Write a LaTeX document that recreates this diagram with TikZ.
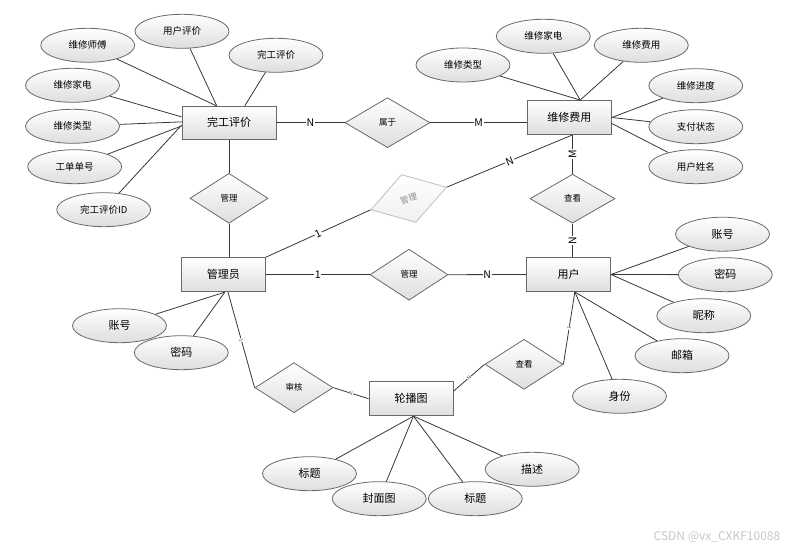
\documentclass[tikz,border=0pt]{standalone}
\usepackage{fontspec}
\setmainfont{Noto Sans CJK SC}
\usepackage{xcolor}
\usepackage{tikz}
\usetikzlibrary{shapes.geometric, positioning}
\definecolor{linecolor}{RGB}{55,55,55}
\definecolor{edgecolor}{RGB}{105,105,105}
\definecolor{shadecolor}{RGB}{222,222,222}

\begin{document}
\begin{tikzpicture}[
    x=1pt, y=-1pt,
    entity/.style={draw=edgecolor, line width=0.9pt, rectangle, top color=white, bottom color=shadecolor, minimum width=84pt, minimum height=34pt, inner sep=0pt, font=\fontsize{11}{13}\selectfont},
    attribute/.style={draw=edgecolor, line width=0.8pt, ellipse, top color=white, bottom color=shadecolor, minimum width=94pt, minimum height=34pt, inner sep=0pt, font=\fontsize{9.5}{11}\selectfont},
    bigattribute/.style={attribute, font=\fontsize{11}{13}\selectfont},
    relation/.style={draw=edgecolor, line width=0.8pt, diamond, top color=white, bottom color=shadecolor, minimum width=78pt, minimum height=50pt, inner sep=0pt, font=\fontsize{8.5}{10}\selectfont},
    link/.style={draw=linecolor, line width=0.8pt},
    card/.style={fill=white, inner sep=0.8pt, font=\fontsize{10.5}{11}\selectfont},
    tinycard/.style={fill=white, inner sep=0.2pt, text=black!70, font=\fontsize{5}{6}\selectfont, sloped}
]
    \useasboundingbox (0,0) rectangle (812,553);

    % Entities
    \node[entity, minimum width=94pt, minimum height=33pt] (wgpj) at (229,122.7) {完工评价};
    \node[entity] (wxfy) at (569.3,117.5) {维修费用};
    \node[entity] (gly) at (223.3,274.7) {管理员};
    \node[entity] (yh) at (568.5,274.5) {用户};
    \node[entity] (lbt) at (411,398.7) {轮播图};

    % Relations
    \node[relation, minimum width=85pt] (sy) at (387.5,122.7) {属于};
    \node[relation] (gl1) at (229,198.3) {管理};
    \node[relation, minimum width=79pt, rotate=16.6, draw=black!25, text=black!45, bottom color=black!6] (gl2) at (408.7,198.5) {管理};
    \node[relation, minimum width=85pt, minimum height=49pt] (ck1) at (572.5,198.7) {查看};
    \node[relation, minimum height=51pt] (gl3) at (409,274.7) {管理};
    \node[relation] (sh) at (294,387.7) {审核};
    \node[relation] (ck2) at (524,364.3) {查看};

    % Attributes of 完工评价
    \node[attribute] (wsf) at (87.7,45.3) {维修师傅};
    \node[attribute] (yhpj) at (182,31.3) {用户评价};
    \node[attribute] (wgpja) at (276,55.3) {完工评价};
    \node[attribute] (wxjd) at (72.5,85.3) {维修家电};
    \node[attribute] (wxlx) at (72.5,126.3) {维修类型};
    \node[attribute] (gddh) at (74.7,166.7) {工单单号};
    \node[attribute] (wgid) at (103.7,209.7) {完工评价ID};

    % Attributes of 维修费用
    \node[attribute] (fwlx) at (463,65) {维修类型};
    \node[attribute] (fwjd) at (543.3,36.3) {维修家电};
    \node[attribute] (fwfy) at (641.3,45.3) {维修费用};
    \node[attribute] (fwjz) at (695.8,85.7) {维修进度};
    \node[attribute] (zfzt) at (695.8,126.7) {支付状态};
    \node[attribute] (yhxm) at (695.8,166.7) {用户姓名};

    % Attributes of 管理员 and 用户
    \node[bigattribute] (zh1) at (119.5,325.7) {账号};
    \node[bigattribute] (mm1) at (181.3,352.7) {密码};
    \node[bigattribute] (zh2) at (722.5,234.2) {账号};
    \node[bigattribute] (mm2) at (725.3,274.7) {密码};
    \node[bigattribute] (nc) at (703.8,315.7) {昵称};
    \node[bigattribute] (yx) at (682,355.7) {邮箱};
    \node[bigattribute] (sf) at (619.5,396.3) {身份};

    % Attributes of 轮播图
    \node[bigattribute] (bt1) at (309.5,473.7) {标题};
    \node[bigattribute] (fmt) at (379.2,498.7) {封面图};
    \node[bigattribute] (bt2) at (475.3,498.7) {标题};
    \node[bigattribute] (ms) at (532.2,469.3) {描述};

    % Attribute links
    \draw[link] (wsf) -- (wgpj.127);
    \draw[link] (yhpj) -- (wgpj.126);
    \draw[link] (wgpja) -- (wgpj.47);
    \draw[link] (wxjd) -- (wgpj.173);
    \draw[link] (wxlx) -- (wgpj.179);
    \draw[link] (gddh) -- (wgpj.184);
    \draw[link] (wgid) -- (wgpj.183);
    \draw[link] (fwlx) -- (wxfy.58);
    \draw[link] (fwjd) -- (wxfy.58);
    \draw[link] (fwfy) -- (wxfy.58);
    \draw[link] (fwjz) -- (wxfy.east);
    \draw[link] (zfzt) -- (wxfy.east);
    \draw[link] (yhxm) -- (wxfy.-8);
    \draw[link] (zh1) -- (gly.-85);
    \draw[link] (mm1) -- (gly.-85);
    \draw[link] (zh2) -- (yh.east);
    \draw[link] (mm2) -- (yh.east);
    \draw[link] (nc) -- (yh.east);
    \draw[link] (yx) -- (yh.-70);
    \draw[link] (sf) -- (yh.-70);
    \draw[link] (bt1) -- (lbt.-82);
    \draw[link] (fmt) -- (lbt.-82);
    \draw[link] (bt2) -- (lbt.-82);
    \draw[link] (ms) -- (lbt.-82);

    % Relation links
    \draw[link] (wgpj.east) -- node[card] {N} (sy.west);
    \draw[link] (sy.east) -- node[card] {M} (sy.east -| wxfy.west);
    \draw[link] (wgpj.south -| gl1.north) -- (gl1.north);
    \draw[link] (gl1.south) -- (gl1.south |- gly.north);
    \draw[link] (gly.north east) -- node[card, sloped] {1} (gl2.west);
    \draw[link] (gl2.east) -- node[card, sloped] {N} (wxfy.-80);
    \draw[link] (ck1.north |- wxfy.south) -- node[card, rotate=90] {M} (ck1.north);
    \draw[link] (ck1.south) -- node[card, rotate=90] {N} (ck1.south |- yh.north);
    \draw[link] (gly.east) -- node[card] {1} (gl3.west);
    \draw[link] (gl3.east) -- node[card] {N} (yh.west);
    \draw[link] (gly.-75) -- node[tinycard] {1} (sh.west);
    \draw[link] (sh.east) -- node[tinycard] {N} (lbt.west);
    \draw[link] (lbt.10) -- node[tinycard] {N} (ck2.west);
    \draw[link] (ck2.east) -- node[tinycard] {1} (yh.-70);

    % Watermark
    \node[text=black!22, font=\fontsize{12}{14}\selectfont] (mark) at (717,537) {CSDN @vx\_CXKF10088};
\end{tikzpicture}
\end{document}
